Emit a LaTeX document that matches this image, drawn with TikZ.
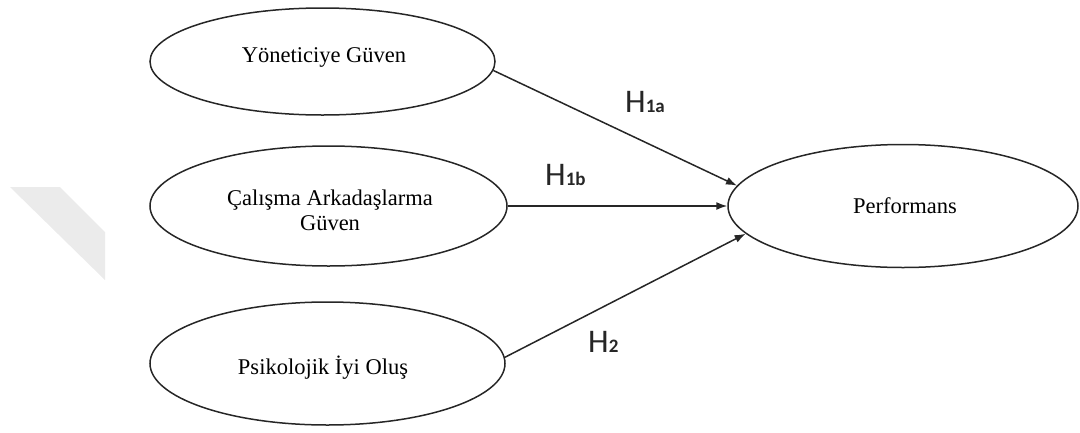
\documentclass[tikz,border=0pt]{standalone}
\usepackage{fontspec}
\setmainfont{Liberation Serif}
\newfontfamily\calib{Carlito}
\usetikzlibrary{shapes.geometric,arrows.meta}
\begin{document}
\begin{tikzpicture}[x=1pt,y=-1pt,
  oval/.style={draw=black!85,line width=1.5pt,ellipse,inner sep=0pt},
  lbl/.style={inner sep=0pt,anchor=base,font=\fontsize{22.5}{25}\selectfont,text=black},
  hyp/.style={inner sep=0pt,anchor=base west,text=black!85},
  link/.style={draw=black!85,line width=1.5pt,-{Latex[length=11pt,width=8pt]}}]
\useasboundingbox (0,0) rectangle (1080,432);
\fill[black!8] (10,187) -- (60,187) -- (105,232) -- (105,280) -- cycle;
\node[oval,minimum width=345pt,minimum height=107pt] (e1) at (322.5,61.5) {};
\node[oval,minimum width=357pt,minimum height=120pt] (e2) at (328.5,206) {};
\node[oval,minimum width=355pt,minimum height=123pt] (e3) at (327.5,363.5) {};
\node[oval,minimum width=350pt,minimum height=123pt] (perf) at (903,206) {};
\node[lbl] (t1) at (324,62) {Yöneticiye Güven};
\node[lbl] (t2a) at (330,205) {Çalışma Arkadaşlarma};
\node[lbl] (t2b) at (330,230) {Güven};
\node[lbl] (t3) at (323,374) {Psikolojik İyi Oluş};
\node[lbl] (t4) at (905,213) {Performans};
\draw[link] (e1.-3) -- (perf.173);
\draw[link] (e2.east) -- (perf.west);
\draw[link] (e3.2) -- (perf.190);
\node[hyp] (h1a) at (625,112) {\calib\fontsize{33}{36}\selectfont H\fontsize{19}{20}\selectfont\bfseries 1a};
\node[hyp] (h1b) at (545,185) {\calib\fontsize{33}{36}\selectfont H\fontsize{19}{20}\selectfont\bfseries 1b};
\node[hyp] (h2) at (588,352) {\calib\fontsize{33}{36}\selectfont H\fontsize{19}{20}\selectfont\bfseries 2};
\end{tikzpicture}
\end{document}
